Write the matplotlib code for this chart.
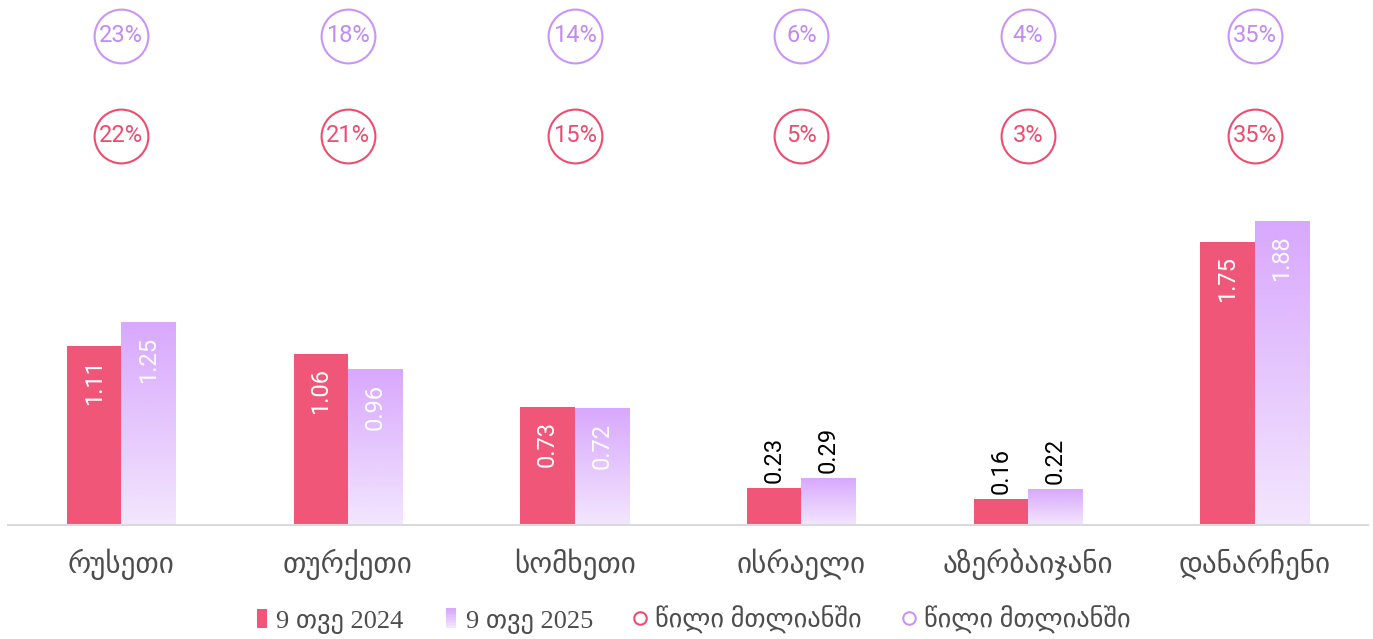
import numpy as np
import matplotlib
matplotlib.use("Agg")
import matplotlib.pyplot as plt
from matplotlib.patches import Patch, Rectangle
from matplotlib.lines import Line2D
from matplotlib.legend_handler import HandlerBase
from matplotlib.colors import LinearSegmentedColormap

plt.rcParams["font.family"] = ["Roboto", "DejaVu Sans"]

categories = ["რუსეთი", "თურქეთი", "სომხეთი", "ისრაელი", "აზერბაიჯანი", "დანარჩენი"]
v2024 = [1.11, 1.06, 0.73, 0.23, 0.16, 1.75]
v2025 = [1.25, 0.96, 0.72, 0.29, 0.22, 1.88]
share2024 = [22, 21, 15, 5, 3, 35]
share2025 = [23, 18, 14, 6, 4, 35]
legend_labels = ["9 თვე 2024", "9 თვე 2025", "წილი მთლიანში", "წილი მთლიანში"]

PINK = "#F05678"
PINK_DARK = "#EE4C6E"
PURPLE_TOP = "#D8A8FD"
PURPLE_BOT = "#F3E6FD"
PURPLE_LINE = "#C994F7"
PURPLE_TEXT = "#C28AF2"

grad_cmap = LinearSegmentedColormap.from_list("grad", [PURPLE_BOT, PURPLE_TOP])
grad = np.linspace(0, 1, 256).reshape(-1, 1)


class HandlerGradient(HandlerBase):
    def create_artists(self, legend, orig_handle, xdescent, ydescent,
                       width, height, fontsize, trans):
        n = 12
        arts = []
        for i in range(n):
            c = grad_cmap(i / (n - 1))
            r = Rectangle((-xdescent, -ydescent + height * i / n), width, height / n + 0.2,
                          facecolor=c, edgecolor="none", transform=trans)
            arts.append(r)
        return arts


fig = plt.figure(figsize=(13.73, 6.39), dpi=100)
ax = fig.add_axes([8 / 1373, 114 / 639, 1360 / 1373, 525 / 639])

x = np.arange(len(categories))
w = 0.24
px_per_unit = 161.7

ax.bar(x - w / 2, v2024, width=w, color=PINK, edgecolor="none", zorder=2)

for xi, v in zip(x, v2025):
    ax.imshow(grad, extent=[xi, xi + w, 0, v], origin="lower", aspect="auto",
              cmap=grad_cmap, zorder=2, interpolation="bilinear")

# value labels
for xs, vals in [(x - w / 2, v2024), (x + w / 2, v2025)]:
    for xi, v in zip(xs, vals):
        if v > 0.5:
            ax.text(xi, v - 14 / px_per_unit, f"{v:.2f}", rotation=90, ha="center",
                    va="top", color="white", fontsize=17)
        else:
            ax.text(xi, v + 5 / px_per_unit, f"{v:.2f}", rotation=90, ha="center",
                    va="bottom", color="black", fontsize=17)

# share circles
tr = ax.get_xaxis_transform()
y_top = (525 - 36) / 525
y_mid = (525 - 136) / 525
ax.scatter(x, [y_top] * len(x), s=1500, facecolors="white", edgecolors=PURPLE_LINE,
           linewidths=1.5, transform=tr, clip_on=False, zorder=3)
ax.scatter(x, [y_mid] * len(x), s=1500, facecolors="white", edgecolors=PINK_DARK,
           linewidths=1.5, transform=tr, clip_on=False, zorder=3)
for xi, p in zip(x, share2025):
    ax.text(xi, y_top, f"{p}%", transform=tr, ha="center", va="center",
            color=PURPLE_TEXT, fontsize=17, zorder=4)
for xi, p in zip(x, share2024):
    ax.text(xi, y_mid, f"{p}%", transform=tr, ha="center", va="center",
            color=PINK_DARK, fontsize=17, zorder=4)

ax.set_xlim(-0.5, len(categories) - 0.5)
ax.set_ylim(0, 525 / px_per_unit)
ax.set_xticks(x, categories, family=["DejaVu Sans"], fontsize=21, color="#4D4D4D")
ax.tick_params(axis="x", length=0, pad=17)
ax.set_yticks([])
for s in ["top", "left", "right"]:
    ax.spines[s].set_visible(False)
ax.spines["bottom"].set_color("#DADADA")
ax.spines["bottom"].set_linewidth(1.5)

handles = [
    Patch(facecolor=PINK, edgecolor="none"),
    Patch(facecolor=PURPLE_TOP, edgecolor="none"),
    Line2D([], [], marker="o", linestyle="none", markersize=9,
           markerfacecolor="white", markeredgecolor=PINK_DARK, markeredgewidth=1.5),
    Line2D([], [], marker="o", linestyle="none", markersize=9,
           markerfacecolor="white", markeredgecolor=PURPLE_LINE, markeredgewidth=1.5),
]
leg = fig.legend(handles, legend_labels, loc="center", bbox_to_anchor=(0.505, 0.03),
                 ncol=4, frameon=False, handlelength=0.4, handleheight=0.75,
                 handletextpad=0.35, columnspacing=1.6,
                 prop={"family": ["Liberation Serif", "DejaVu Sans"], "size": 19},
                 handler_map={handles[1]: HandlerGradient()})
for t in leg.get_texts():
    t.set_color("#4D4D4D")

fig.savefig("out.png", dpi=100)
